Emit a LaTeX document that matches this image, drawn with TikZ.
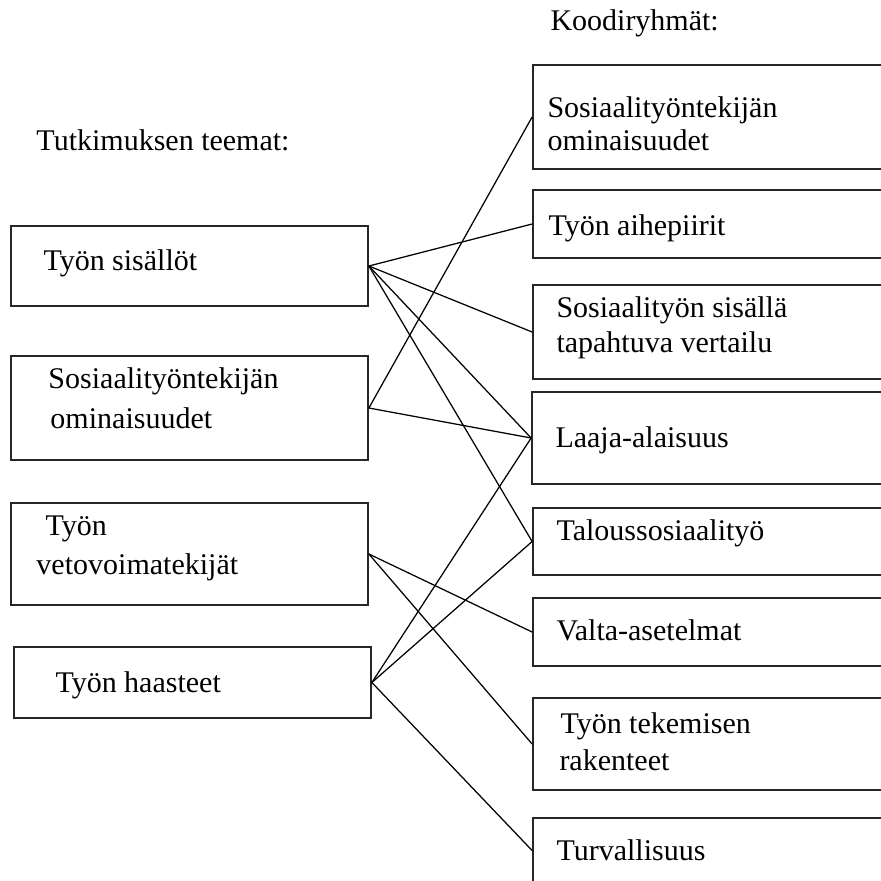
\documentclass[tikz,border=0pt]{standalone}
\usepackage{fontspec}
\setmainfont{Liberation Serif}
\usetikzlibrary{fit}

\begin{document}
\begin{tikzpicture}[x=0.4pt,y=-0.4pt]
    \tikzstyle{every node}+=[inner sep=0pt]
    \tikzstyle{box}=[draw=black!85, line width=0.7pt, rectangle]
    \tikzstyle{txt}=[anchor=base west, font=\fontsize{12}{14}\selectfont]
    \useasboundingbox (0,0) rectangle (881,881);
    \clip (0,0) rectangle (881,881);
    \node [txt] (teemat) at (36,150) {Tutkimuksen teemat:};
    \node [txt] (koodit) at (550,30) {Koodiryhmät:};
    \node [box, fit={(11,226) (368,306)}] (sisallot) {};
    \node [box, fit={(11,356) (368,460)}] (ominL) {};
    \node [box, fit={(11,503) (368,605)}] (veto) {};
    \node [box, fit={(14,647) (371,718)}] (haasteet) {};
    \node [txt] (sisallotA) at (43,270) {Työn sisällöt};
    \node [txt] (ominLA) at (48,388) {Sosiaalityöntekijän};
    \node [txt] (ominLB) at (50,428) {ominaisuudet};
    \node [txt] (vetoA) at (45,535) {Työn};
    \node [txt] (vetoB) at (36,574) {vetovoimatekijät};
    \node [txt] (haasteetA) at (55,692) {Työn haasteet};
    \node [box, fit={(533,65) (895,169)}] (ominR) {};
    \node [box, fit={(533,190) (895,258)}] (aihe) {};
    \node [box, fit={(533,285) (895,379)}] (vertailu) {};
    \node [box, fit={(532,392) (895,484)}] (laaja) {};
    \node [box, fit={(533,508) (895,575)}] (talous) {};
    \node [box, fit={(533,598) (895,666)}] (valta) {};
    \node [box, fit={(533,698) (895,790)}] (rakenteet) {};
    \node [box, fit={(533,818) (895,883)}] (turva) {};
    \node [txt] (ominRA) at (547,117) {Sosiaalityöntekijän};
    \node [txt] (ominRB) at (547,150) {ominaisuudet};
    \node [txt] (aiheA) at (548,235) {Työn aihepiirit};
    \node [txt] (vertailuA) at (556,317) {Sosiaalityön sisällä};
    \node [txt] (vertailuB) at (556,352) {tapahtuva vertailu};
    \node [txt] (laajaA) at (555,447) {Laaja-alaisuus};
    \node [txt] (talousA) at (556,540) {Taloussosiaalityö};
    \node [txt] (valtaA) at (556,640) {Valta-asetelmat};
    \node [txt] (rakenteetA) at (560,733) {Työn tekemisen};
    \node [txt] (rakenteetB) at (559,770) {rakenteet};
    \node [txt] (turvaA) at (556,860) {Turvallisuus};
    \foreach \b in {aihe,vertailu,laaja,talous}
        \draw [black, line width=0.5pt] (sisallot.east) -- (\b.west);
    \foreach \b in {ominR,laaja}
        \draw [black, line width=0.5pt] (ominL.east) -- (\b.west);
    \foreach \b in {valta,rakenteet}
        \draw [black, line width=0.5pt] (veto.east) -- (\b.west);
    \foreach \b in {laaja,talous,turva}
        \draw [black, line width=0.5pt] (haasteet.east) -- (\b.west);
\end{tikzpicture}
\end{document}
